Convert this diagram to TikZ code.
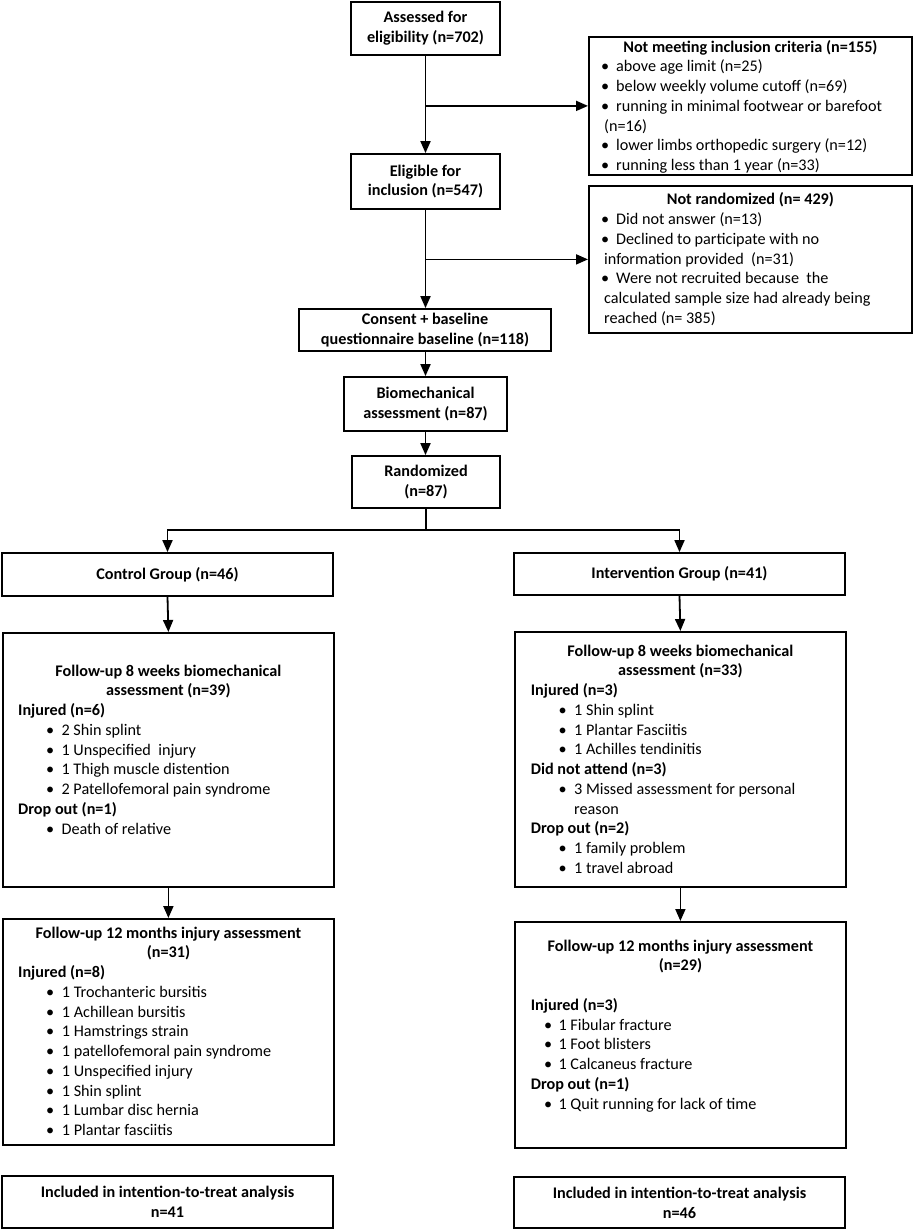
\documentclass[tikz,border=0pt]{standalone}
\usepackage{fontspec}
\setmainfont{Carlito}
\usetikzlibrary{arrows.meta}
\newcommand{\fs}{\fontsize{16.2pt}{19.75pt}\selectfont}
\newlength\hdind \newlength\bulpos \newlength\bulgap
\newcommand{\ttl}[1]{\makebox[\linewidth][c]{\strut\bfseries #1}\par}
\newcommand{\hdr}[1]{\hspace*{\hdind}\strut\textbf{#1}\par}
\newcommand{\bul}[1]{\hspace*{\bulpos}\makebox[0pt][c]{\strut •}\hspace*{\bulgap}#1\par}
\newcommand{\cont}[1]{\hspace*{\bulpos}\hspace*{\bulgap}\strut #1\par}
\newcommand{\blank}{\strut\par}
\begin{document}
\begin{tikzpicture}[x=1pt,y=-1pt,
  box/.style={draw, line width=1.8pt, inner sep=0pt, font=\fs\bfseries, align=center},
  lbox/.style={draw, line width=1.8pt, inner sep=0pt, font=\fs, anchor=north west},
  arr/.style={line width=1.8pt, -{Triangle[width=10pt,length=12pt]}},
  ln/.style={line width=1.8pt}]
\useasboundingbox (0,0) rectangle (913,1231);

% main column
\node[box, minimum width=149pt, minimum height=53pt] (assessed) at (425.5,28.5) {Assessed for\\eligibility (n=702)};
\node[box, minimum width=149pt, minimum height=55pt] (eligible) at (425.5,181.5) {Eligible for\\inclusion (n=547)};
\node[box, minimum width=252pt, minimum height=42pt] (consent) at (425,330) {Consent + baseline\\questionnaire baseline (n=118)};
\node[box, minimum width=163pt, minimum height=54pt] (biomech) at (425.5,404) {Biomechanical\\assessment (n=87)};
\node[box, minimum width=148pt, minimum height=52pt] (rand) at (426,482) {Randomized\\(n=87)};

% exclusion boxes
\node[lbox] (notmeet) at (588,36) {\begin{minipage}[c][138pt][t]{323pt}%
\setlength\bulpos{16.3pt}\setlength\bulgap{11pt}%
\vspace*{1.3pt}
\ttl{Not meeting inclusion criteria (n=155)}
\bul{above age limit (n=25)}
\bul{below weekly volume cutoff (n=69)}
\bul{running in minimal footwear or barefoot}
\hspace*{15.3pt}\strut(n=16)\par
\bul{lower limbs orthopedic surgery (n=12)}
\bul{running less than 1 year (n=33)}
\end{minipage}};

\node[lbox] (notrand) at (588,185) {\begin{minipage}[c][147pt][t]{323pt}%
\setlength\bulpos{16.3pt}\setlength\bulgap{11pt}%
\vspace*{5.1pt}
\ttl{Not randomized (n= 429)}
\bul{Did not answer (n=13)}
\bul{Declined to participate with no}
\hspace*{15.3pt}\strut information provided\ \ (n=31)\par
\bul{Were not recruited because\ \ the}
\hspace*{15.3pt}\strut calculated sample size had already being\par
\hspace*{15.3pt}\strut reached (n= 385)\par
\end{minipage}};

% groups
\node[box, minimum width=331pt, minimum height=43pt] (control) at (167.5,574.5) {Control Group (n=46)};
\node[box, minimum width=331pt, minimum height=42pt] (interv) at (679.5,574) {Intervention Group (n=41)};

\node[lbox] (ctrl8) at (2,632) {\begin{minipage}[c][254pt][t]{331pt}%
\setlength\hdind{15.3pt}\setlength\bulpos{47.3pt}\setlength\bulgap{11.4pt}%
\vspace*{29.3pt}
\ttl{Follow-up 8 weeks biomechanical}
\ttl{assessment (n=39)}
\hdr{Injured (n=6)}
\bul{2 Shin splint}
\bul{1 Unspecified\ \ injury}
\bul{1 Thigh muscle distention}
\bul{2 Patellofemoral pain syndrome}
\hdr{Drop out (n=1)}
\bul{Death of relative}
\end{minipage}};

\node[lbox] (int8) at (514,631) {\begin{minipage}[c][255pt][t]{331pt}%
\setlength\hdind{16pt}\setlength\bulpos{47.7pt}\setlength\bulgap{11.6pt}%
\vspace*{10.3pt}
\ttl{Follow-up 8 weeks biomechanical}
\ttl{assessment (n=33)}
\hdr{Injured (n=3)}
\bul{1 Shin splint}
\bul{1 Plantar Fasciitis}
\bul{1 Achilles tendinitis}
\hdr{Did not attend (n=3)}
\bul{3 Missed assessment for personal}
\cont{reason}
\hdr{Drop out (n=2)}
\bul{1 family problem}
\bul{1 travel abroad}
\end{minipage}};

\node[lbox] (ctrl12) at (2,918) {\begin{minipage}[c][226pt][t]{331pt}%
\setlength\hdind{15.3pt}\setlength\bulpos{47.3pt}\setlength\bulgap{11.7pt}%
\vspace*{5.3pt}
\ttl{Follow-up 12 months injury assessment}
\ttl{(n=31)}
\hdr{Injured (n=8)}
\bul{1 Trochanteric bursitis}
\bul{1 Achillean bursitis}
\bul{1 Hamstrings strain}
\bul{1 patellofemoral pain syndrome}
\bul{1 Unspecified injury}
\bul{1 Shin splint}
\bul{1 Lumbar disc hernia}
\bul{1 Plantar fasciitis}
\end{minipage}};

\node[lbox] (int12) at (514,921) {\begin{minipage}[c][226pt][t]{331pt}%
\setlength\hdind{16pt}\setlength\bulpos{33.3pt}\setlength\bulgap{10.4pt}%
\vspace*{15.3pt}
\ttl{Follow-up 12 months injury assessment}
\ttl{(n=29)}
\blank
\hdr{Injured (n=3)}
\bul{1 Fibular fracture}
\bul{1 Foot blisters}
\bul{1 Calcaneus fracture}
\hdr{Drop out (n=1)}
\bul{1 Quit running for lack of time}
\end{minipage}};

\node[box, minimum width=331pt, minimum height=52pt] (inclL) at (167.5,1202) {Included in intention-to-treat analysis\\n=41};
\node[box, minimum width=331pt, minimum height=51pt] (inclR) at (679.5,1202.5) {Included in intention-to-treat analysis\\n=46};

% connectors
\draw[arr] (assessed.south) -- (eligible.north);
\draw[arr] (assessed.south |- notmeet.west) -- (notmeet.west);
\draw[arr] (eligible.south) -- (eligible.south |- consent.north);
\draw[arr] (eligible.south |- notrand.west) -- (notrand.west);
\draw[arr] (consent.south -| eligible.south) -- (eligible.south |- biomech.north);
\draw[arr] (biomech.south -| eligible.south) -- (eligible.south |- rand.north);
\coordinate (split) at (426,530);
\draw[ln] (rand.south) -- (split);
\draw[arr] (split) -| (control.north);
\draw[arr] (split) -| (interv.north);
\draw[arr] (control.south) -- (ctrl8.north);
\draw[arr] (ctrl8.south) -- (ctrl12.north);
\draw[arr] (interv.south) -- (int8.north);
\draw[arr] (int8.south) -- (int12.north);
\end{tikzpicture}
\end{document}
